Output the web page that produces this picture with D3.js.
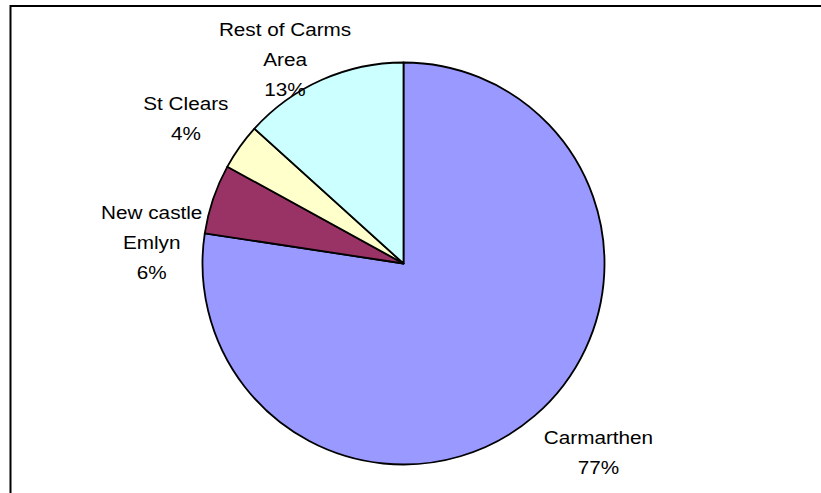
<!DOCTYPE html>
<html>
<head>
<meta charset="utf-8">
<script src="https://cdn.jsdelivr.net/npm/d3@7"></script>
<style>
  body { margin: 0; background: #fff; }
  svg { display: block; }
  text { font-family: "Liberation Sans", Arial, sans-serif; font-size: 18.5px; fill: #000; }
</style>
</head>
<body>
<script>
// pie of areas - share of total

// data
var areas = ['Carmarthen', 'New castle Emlyn', 'St Clears', 'Rest of Carms Area'];
var shares = [77.4, 5.6, 3.7, 13.3];
var labelLines = [['Carmarthen'], ['New castle', 'Emlyn'], ['St Clears'], ['Rest of Carms', 'Area']];
var colors = ['#9999ff', '#993366', '#ffffcc', '#ccffff'];

// layout
var width = 821,
    height = 493,
    cx = 403.5,
    cy = 263.5,
    radius = 201,
    labelRadius = 250,
    lineGap = 30,
    stretch = 1.12;
// where Excel put each label, relative to the point at labelRadius
var labelNudge = [[32, -1], [-15, 59], [-14, 0.5], [-17, 24]];

var svg = d3.select('body').append('svg')
  .attr('width', width)
  .attr('height', height);

// chart area border (runs off the right and bottom of the picture)
svg.append('rect')
  .attr('x', 10.5).attr('y', 6)
  .attr('width', 900).attr('height', 600)
  .attr('fill', 'none')
  .attr('stroke', '#000')
  .attr('stroke-width', 2);

var pie = d3.pie().sort(null).value(function(d){ return d; });
var arcs = pie(shares);

var arc = d3.arc().innerRadius(0).outerRadius(radius);
var labelArc = d3.arc().innerRadius(labelRadius).outerRadius(labelRadius);

var g = svg.append('g').attr('transform', 'translate(' + cx + ',' + cy + ')');

g.selectAll('path.slice').data(arcs).enter().append('path')
  .attr('class', 'slice')
  .attr('d', arc)
  .attr('fill', function(d, i){ return colors[i]; })
  .attr('stroke', '#000')
  .attr('stroke-width', 1.8)
  .attr('stroke-linejoin', 'round');

var labels = g.selectAll('g.label').data(arcs).enter().append('g')
  .attr('class', 'label')
  .attr('transform', function(d, i){
    var c = labelArc.centroid(d);
    return 'translate(' + (c[0] + labelNudge[i][0]) + ',' + (c[1] + labelNudge[i][1]) + ') scale(' + stretch + ',1)';
  });

labels.each(function(d, i){
  var lines = labelLines[i].concat([Math.round(shares[i]) + '%']);
  var top = -(lines.length - 1) * lineGap / 2;
  d3.select(this).selectAll('text').data(lines).enter().append('text')
    .attr('text-anchor', 'middle')
    .attr('x', 0)
    .attr('y', function(t, k){ return top + k * lineGap + 6.5; })
    .text(function(t){ return t; });
});
</script>
</body>
</html>
